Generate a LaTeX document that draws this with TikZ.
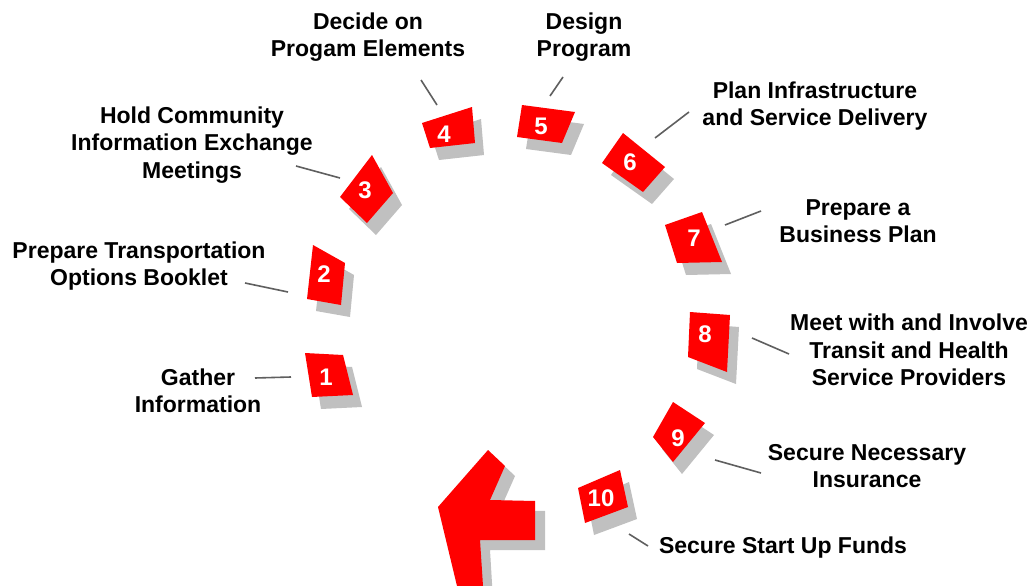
\documentclass[tikz,border=0pt]{standalone}
\usepackage{fontspec}
\setmainfont{Liberation Sans}
\usepackage{xcolor}
\usetikzlibrary{calc}
\definecolor{tilered}{RGB}{255,0,0}
\definecolor{shadowgray}{RGB}{192,192,192}
\definecolor{leadgray}{RGB}{95,95,95}
\tikzset{
  steplabel/.style={align=center,font=\bfseries\fontsize{23}{27.5}\selectfont,inner sep=0pt},
  tilenum/.style={text=white,font=\bfseries\fontsize{24}{24}\selectfont,inner sep=0pt},
  leader/.style={leadgray,line width=1.6pt},
  tileshadow/.style={fill=shadowgray,shift={(9,12)}},
}
\newcommand{\steptile}[5]{% corners 1-4, number
  \fill[tileshadow] #1 -- #2 -- #3 -- #4 -- cycle;
  \fill[tilered] #1 -- #2 -- #3 -- #4 -- cycle;
}
\begin{document}
\begin{tikzpicture}[x=1pt,y=-1pt]
\useasboundingbox[fill=white] (0,0) rectangle (1036,586);

% Pfeil in der Mitte unten
\fill[shadowgray,shift={(10,10)}] (488,450) -- (505,466) -- (490,500) -- (535,501) -- (535,540) -- (480,540) -- (483,590) -- (457,590) -- (438,507) -- cycle;
\fill[tilered] (488,450) -- (505,466) -- (490,500) -- (535,501) -- (535,540) -- (480,540) -- (483,586) -- (457,586) -- (438,507) -- cycle;

% Kacheln im Kreis
\steptile{(305,353)}{(343,355)}{(353,395)}{(312,397)}{1}
\steptile{(313,245)}{(345,263)}{(341,305)}{(307,299)}{2}
\steptile{(372,155)}{(393,193)}{(367,223)}{(340,197)}{3}
\steptile{(422,123)}{(472,107)}{(475,143)}{(430,148)}{4}
\steptile{(522,105)}{(575,112)}{(562,143)}{(517,137)}{5}
\steptile{(623,133)}{(665,167)}{(643,192)}{(602,163)}{6}
\steptile{(665,225)}{(702,212)}{(722,262)}{(677,263)}{7}
\steptile{(690,312)}{(730,315)}{(727,372)}{(688,357)}{8}
\steptile{(673,402)}{(705,423)}{(673,462)}{(653,437)}{9}
\steptile{(578,488)}{(620,470)}{(628,507)}{(585,523)}{10}

% Nummern
\node[tilenum] (n1) at (326,377) {1};
\node[tilenum] (n2) at (324,274) {2};
\node[tilenum] (n3) at (365,190) {3};
\node[tilenum] (n4) at (444,134) {4};
\node[tilenum] (n5) at (541,126) {5};
\node[tilenum] (n6) at (630,162) {6};
\node[tilenum] (n7) at (694,238) {7};
\node[tilenum] (n8) at (705,334) {8};
\node[tilenum] (n9) at (678,438) {9};
\node[tilenum] (n10) at (601,498) {10};

% Beschriftungen
\node[steplabel] (l1) at (198,391) {Gather\\Information};
\node[steplabel] (l2) at (139,266) {Prepare Transportation\\Options Booklet};
\node[steplabel] (l3) at (192,145) {Hold Community\\Information Exchange\\Meetings};
\node[steplabel] (l4) at (368,37) {Decide on\\Progam Elements};
\node[steplabel] (l5) at (584,37) {Design\\Program};
\node[steplabel] (l6) at (815,106) {Plan Infrastructure\\and Service Delivery};
\node[steplabel] (l7) at (858,221) {Prepare a\\Business Plan};
\node[steplabel] (l8) at (909,350) {Meet with and Involve\\Transit and Health\\Service Providers};
\node[steplabel] (l9) at (867,466) {Secure Necessary\\Insurance};
\node[steplabel] (l10) at (783,548) {Secure Start Up Funds};

% Hinweislinien
\coordinate (a1) at (255,378); \coordinate (b1) at (291,377);
\coordinate (a2) at (245,283); \coordinate (b2) at (288,292);
\coordinate (a3) at (296,166); \coordinate (b3) at (340,178);
\coordinate (a4) at (421,80);  \coordinate (b4) at (437,105);
\coordinate (a5) at (563,77);  \coordinate (b5) at (550,96);
\coordinate (a6) at (689,112); \coordinate (b6) at (655,138);
\coordinate (a7) at (761,211); \coordinate (b7) at (725,225);
\coordinate (a8) at (752,338); \coordinate (b8) at (789,354);
\coordinate (a9) at (715,460); \coordinate (b9) at (761,473);
\coordinate (a10) at (629,534); \coordinate (b10) at (648,546);
\foreach \i in {1,...,10}
  \draw[leader] (a\i) -- (b\i);

\end{tikzpicture}
\end{document}
